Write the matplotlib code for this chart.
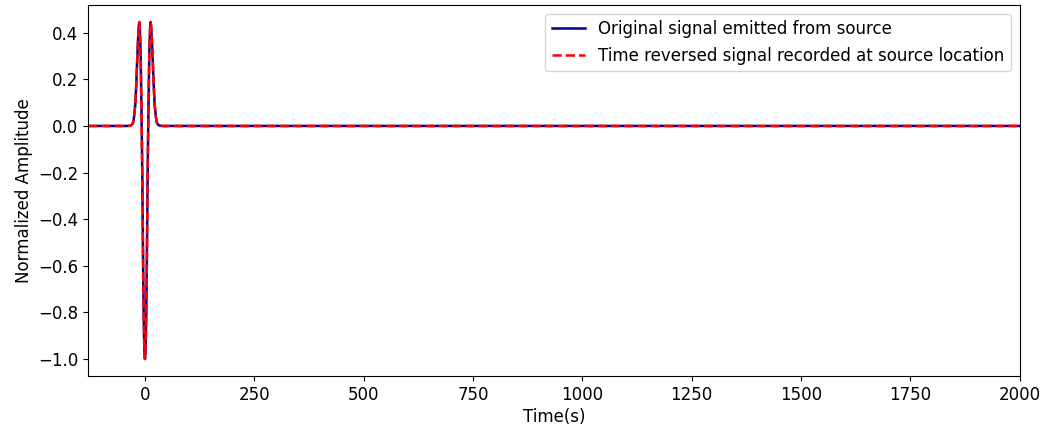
import numpy as np
import matplotlib.pyplot as plt

# pulse samples (time in s, normalized amplitude)
t = [-130, -40, -34, -30, -27, -25, -22, -20, -18, -16, -14, -13, -12, -10, -8,
     -6, -5, -4, -3, -2, -1, 0, 1, 2, 3, 4, 5, 6, 8, 10, 12, 13, 14, 16, 18,
     20, 22, 25, 27, 30, 34, 40, 500, 1000, 1500, 2000]
amp = [0.0, 0.0, 0.001, 0.005, 0.015, 0.039, 0.095, 0.175, 0.27, 0.365, 0.43,
       0.446, 0.43, 0.319, 0.078, -0.22, -0.445, -0.64, -0.80, -0.91, -0.98, -1.0,
       -0.98, -0.91, -0.80, -0.64, -0.445, -0.22, 0.078, 0.319, 0.43, 0.446, 0.43,
       0.365, 0.27, 0.175, 0.095, 0.039, 0.015, 0.005, 0.001, 0.0, 0.0, 0.0, 0.0, 0.0]

# time reversed record is the same pulse
t_rev = list(t)
amp_rev = list(amp)

plt.rcParams['font.size'] = 12

fig = plt.figure(figsize=(10.49, 4.32), dpi=100)
ax = fig.add_axes([0.084, 0.13, 0.888, 0.858])

ax.plot(t, amp, color='darkblue', lw=1.8, label='Original signal emitted from source')
ax.plot(t_rev, amp_rev, 'r--', lw=1.8, label='Time reversed signal recorded at source location')
ax.set_xlim(-130, 2000)
ax.set_xlabel('Time(s)', labelpad=3)
ax.set_ylabel('Normalized Amplitude')
ax.legend(loc='upper right')

fig.savefig('out.png', dpi=100)
